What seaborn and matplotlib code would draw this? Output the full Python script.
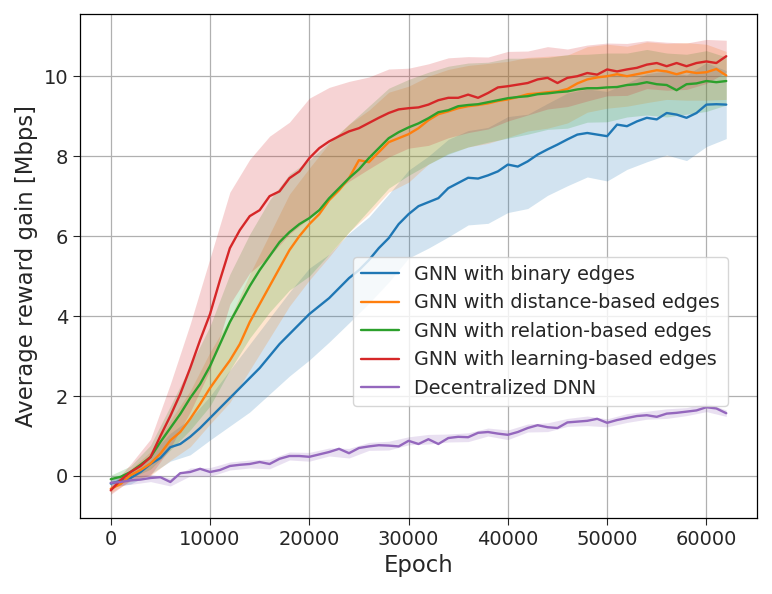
import numpy as np
import pandas as pd
import seaborn as sns
import matplotlib
matplotlib.use("Agg")
import matplotlib.pyplot as plt

# epochs of the mean curves (every 1000)
epochs = list(range(0, 63000, 1000))

labels = ["GNN with binary edges",
          "GNN with distance-based edges",
          "GNN with relation-based edges",
          "GNN with learning-based edges",
          "Decentralized DNN"]

binary_mean = [-0.19, -0.12, -0.05, 0.1, 0.3, 0.45, 0.72, 0.8, 0.98, 1.2,
               1.45, 1.7, 1.95, 2.2, 2.45, 2.7, 3.0, 3.3, 3.55, 3.8,
               4.05, 4.25, 4.45, 4.7, 4.95, 5.15, 5.4, 5.7, 5.95, 6.3,
               6.55, 6.75, 6.85, 6.95, 7.2, 7.33, 7.46, 7.44, 7.52, 7.62,
               7.79, 7.74, 7.87, 8.04, 8.17, 8.29, 8.42, 8.54, 8.58, 8.54,
               8.5, 8.79, 8.75, 8.87, 8.96, 8.92, 9.08, 9.04, 8.96, 9.08,
               9.29, 9.3, 9.29]
distance_mean = [-0.32, -0.2, 0.02, 0.15, 0.31, 0.56, 0.89, 1.1, 1.43, 1.8,
                 2.2, 2.55, 2.89, 3.3, 3.85, 4.3, 4.75, 5.2, 5.65, 6.0,
                 6.3, 6.55, 6.9, 7.15, 7.45, 7.9, 7.85, 8.1, 8.35, 8.45,
                 8.55, 8.7, 8.9, 9.05, 9.12, 9.2, 9.25, 9.28, 9.32, 9.38,
                 9.42, 9.48, 9.55, 9.57, 9.6, 9.62, 9.68, 9.82, 9.92, 9.97,
                 10.0, 10.05, 10.0, 10.05, 10.1, 10.15, 10.12, 10.05, 10.12, 10.08,
                 10.1, 10.18, 10.02]
relation_mean = [-0.08, -0.02, 0.1, 0.28, 0.47, 0.85, 1.2, 1.55, 1.95, 2.3,
                 2.75, 3.3, 3.85, 4.3, 4.75, 5.15, 5.5, 5.85, 6.1, 6.3,
                 6.45, 6.65, 6.95, 7.2, 7.45, 7.67, 7.95, 8.2, 8.45, 8.6,
                 8.72, 8.82, 8.95, 9.1, 9.15, 9.25, 9.28, 9.3, 9.35, 9.4,
                 9.45, 9.48, 9.5, 9.55, 9.57, 9.6, 9.62, 9.67, 9.7, 9.7,
                 9.72, 9.73, 9.78, 9.8, 9.85, 9.8, 9.78, 9.65, 9.8, 9.82,
                 9.88, 9.85, 9.88]
learning_mean = [-0.36, -0.1, 0.1, 0.25, 0.47, 1.0, 1.5, 2.05, 2.7, 3.4,
                 4.05, 4.9, 5.7, 6.15, 6.5, 6.65, 7.0, 7.12, 7.45, 7.62,
                 7.95, 8.2, 8.37, 8.5, 8.62, 8.7, 8.83, 8.96, 9.08, 9.17,
                 9.2, 9.22, 9.29, 9.4, 9.46, 9.46, 9.54, 9.46, 9.58, 9.72,
                 9.75, 9.79, 9.83, 9.92, 9.96, 9.83, 9.96, 10.0, 10.08, 10.04,
                 10.17, 10.12, 10.17, 10.21, 10.29, 10.33, 10.25, 10.33, 10.25, 10.33,
                 10.37, 10.33, 10.5]
dnn_mean = [-0.17, -0.15, -0.11, -0.09, -0.05, -0.03, -0.15, 0.07, 0.1, 0.18,
            0.1, 0.15, 0.25, 0.28, 0.3, 0.35, 0.3, 0.43, 0.5, 0.5,
            0.48, 0.54, 0.6, 0.68, 0.57, 0.7, 0.74, 0.77, 0.76, 0.74,
            0.88, 0.8, 0.92, 0.8, 0.95, 0.98, 0.97, 1.08, 1.1, 1.06,
            1.03, 1.1, 1.2, 1.27, 1.22, 1.2, 1.34, 1.36, 1.38, 1.43,
            1.33, 1.4, 1.45, 1.5, 1.52, 1.48, 1.56, 1.58, 1.61, 1.64,
            1.72, 1.69, 1.57]

# half width of the shaded band, every 2000 epochs
band_epochs = list(range(0, 63000, 2000))
binary_spread = [0.1, 0.15, 0.25, 0.35, 0.45, 0.55, 0.7, 0.85, 0.95, 1.05,
                 1.15, 1.1, 1.12, 1.08, 1.1, 1.1, 1.15, 1.22, 1.18, 1.2,
                 1.2, 1.18, 1.15, 1.16, 1.1, 1.12, 1.08, 1.1, 1.05, 1.07,
                 1.05, 0.85]
distance_spread = [0.1, 0.15, 0.3, 0.5, 0.7, 0.9, 1.05, 1.2, 1.3, 1.4,
                   1.4, 1.42, 1.35, 1.3, 1.25, 1.2, 1.1, 1.05, 1.02, 1.0,
                   0.95, 0.92, 0.9, 0.85, 0.82, 0.8, 0.75, 0.76, 0.7, 0.72,
                   0.7, 0.6]
relation_spread = [0.1, 0.15, 0.3, 0.55, 0.8, 1.0, 1.2, 1.3, 1.4, 1.45,
                   1.45, 1.4, 1.35, 1.3, 1.25, 1.2, 1.15, 1.1, 1.05, 1.0,
                   1.0, 0.95, 0.9, 0.92, 0.85, 0.86, 0.8, 0.82, 0.8, 0.75,
                   0.76, 0.6]
learning_spread = [0.1, 0.2, 0.45, 0.8, 1.1, 1.4, 1.4, 1.42, 1.5, 1.4,
                   1.5, 1.35, 1.25, 1.15, 1.1, 1.0, 1.02, 1.0, 0.95, 0.9,
                   0.87, 0.8, 0.78, 0.72, 0.7, 0.66, 0.65, 0.6, 0.6, 0.58,
                   0.55, 0.4]
dnn_spread = [0.08, 0.1, 0.09, 0.1, 0.1, 0.11, 0.1, 0.1, 0.12, 0.1,
              0.11, 0.1, 0.12, 0.1, 0.11, 0.1, 0.12, 0.1, 0.11, 0.1,
              0.12, 0.1, 0.11, 0.1, 0.12, 0.1, 0.11, 0.1, 0.12, 0.1,
              0.11, 0.08]

means = [binary_mean, distance_mean, relation_mean, learning_mean, dnn_mean]
spreads = [binary_spread, distance_spread, relation_spread, learning_spread, dnn_spread]
colors = sns.color_palette("tab10", 5)

rows = []
for lab, m in zip(labels, means):
    for e, v in zip(epochs, m):
        rows.append({"Epoch": e, "reward": v, "method": lab})
df = pd.DataFrame(rows)

sns.set_style("ticks")
plt.rcParams["font.family"] = ["DejaVu Sans"]

fig = plt.figure(figsize=(7.72, 5.94), dpi=100)
ax = fig.add_axes([0.1036, 0.128, 0.877, 0.848])

# shaded bands
for m, s, c in zip(means, spreads, colors):
    m2 = np.array(m[::2])
    s = np.array(s)
    ax.fill_between(band_epochs, m2 - s, m2 + s, color=c, alpha=0.2, linewidth=0)

sns.lineplot(data=df, x="Epoch", y="reward", hue="method", hue_order=labels,
             palette=colors, linewidth=1.7, ax=ax, estimator=None)

ax.set_xlim(-3100, 65100)
ax.set_ylim(-1.05, 11.55)
ax.set_xticks(range(0, 60001, 10000))
ax.set_yticks(range(0, 11, 2))
ax.grid(True, color="#b0b0b0", linewidth=0.9)
ax.tick_params(labelsize=14, direction="out", length=5)
for sp in ax.spines.values():
    sp.set_color("black")
    sp.set_linewidth(0.9)
ax.set_xlabel("Epoch", fontsize=16.4)
ax.set_ylabel("Average reward gain [Mbps]", fontsize=16.4)

ax.legend(loc="lower right", bbox_to_anchor=(0.971, 0.204), fontsize=13.8,
          framealpha=0.8, fancybox=True, title=None)

fig.savefig("out.png", dpi=100)
